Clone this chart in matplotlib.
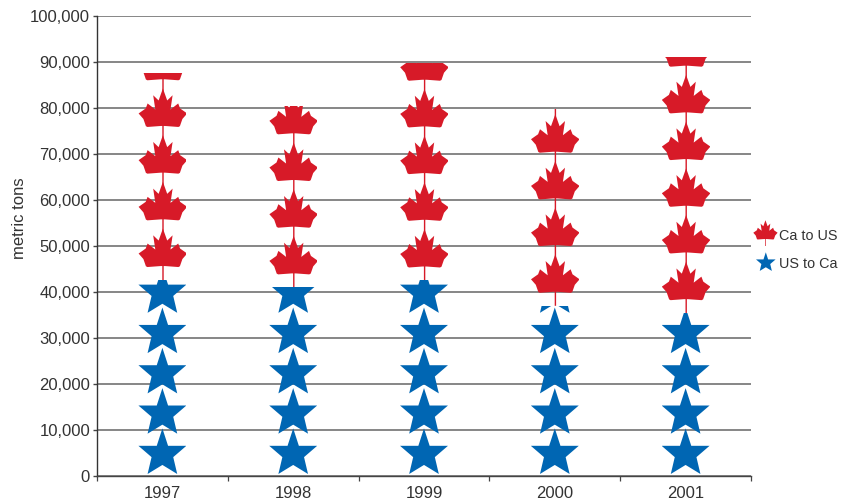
import numpy as np
import matplotlib
matplotlib.use("Agg")
import matplotlib.pyplot as plt
from matplotlib.path import Path
from matplotlib.patches import PathPatch
from matplotlib.transforms import Affine2D

years = ["1997", "1998", "1999", "2000", "2001"]
us_to_ca = [42600, 41000, 42500, 37000, 35400]
ca_to_us = [45000, 39400, 47350, 42800, 55750]
yticks = [0, 10000, 20000, 30000, 40000, 50000, 60000, 70000, 80000, 90000, 100000]

red = "#D71A28"
blue = "#0066B3"
txt = "#333333"

plt.rcParams["font.family"] = ["Liberation Sans", "DejaVu Sans"]

# one icon repeats every so many tons
star_unit = 8760
leaf_unit = 10150
tons_per_px = 100000 / 460.0
cat_per_px = 1 / 130.8

# maple leaf outline in pixels, origin at the bottom of the stem
stem = 13
half = [(0, 38.5), (4.3, 26.5), (9.7, 31.7), (7.6, 17.5), (15.3, 23.5), (17.2, 18.5), (24.3, 13.5),
        (19.5, 8), (17, 0.8), (15.5, 0), (2, 1)]
right = [(a + 0.5, b + stem) for a, b in half]
left = [(0.5 - a, b + stem) for a, b in half[::-1]]
leaf_pts = right + [(1.3, stem + 1), (1.3, 0), (-0.1, 0), (-0.1, stem + 1)] + left
leaf_path = Path(leaf_pts + [leaf_pts[0]], closed=True)

# five pointed star, flat arms and a slightly heavier lower body
star_half = [(0, 1), (0.2245, 0.309), (0.951, 0.309), (0.43, -0.14), (0.588, -0.809), (0, -0.45)]
star_pts = star_half + [(-a, b) for a, b in star_half[-2:0:-1]]
star_path = Path(star_pts + [star_pts[0]], closed=True)


def draw_stack(ax, rect, cx, base, value, unit, icon):
    n = int(np.ceil(value / unit))
    for i in range(n):
        y0 = base + i * unit
        if icon == "star":
            tr = Affine2D().scale(25.2 * cat_per_px, 25.2 * tons_per_px).translate(cx, y0 + 22.4 * tons_per_px)
            p = PathPatch(star_path, transform=tr + ax.transData, fc=blue, ec="none", zorder=3 + i * 0.01)
        else:
            tr = Affine2D().scale(cat_per_px, tons_per_px).translate(cx, y0)
            p = PathPatch(leaf_path, transform=tr + ax.transData, fc=red, ec="none", zorder=3 + i * 0.01)
        ax.add_patch(p)
        p.set_clip_path(rect)


fig = plt.figure(figsize=(8.53, 4.99), dpi=100)
ax = fig.add_axes([97 / 853, 1 - 476 / 499, (751 - 97) / 853, 460 / 499])

x = np.arange(len(years))
bars1 = ax.bar(x, us_to_ca, 48 * cat_per_px, color="none", linewidth=0)
bars2 = ax.bar(x, ca_to_us, 48 * cat_per_px, bottom=us_to_ca, color="none", linewidth=0)

for i in x:
    draw_stack(ax, bars1[i], i, 0, us_to_ca[i], star_unit, "star")
    draw_stack(ax, bars2[i], i, us_to_ca[i], ca_to_us[i], leaf_unit, "leaf")

ax.set_xlim(-0.5, 4.5)
ax.set_ylim(0, 100000)
ax.set_yticks(yticks)
ax.set_yticklabels([f"{v:,}" for v in yticks], fontsize=12, color=txt)
ax.set_xticks(np.arange(-0.5, 5, 1))
ax.set_xticklabels([])
ax.set_xticks(x, years, minor=True, fontsize=12, color=txt)
ax.tick_params(axis="x", which="minor", length=0, pad=7)
ax.tick_params(axis="x", which="major", length=3.5, width=0.9, color="#444444")
ax.tick_params(axis="y", length=3, width=1, color="#444444", pad=2)
ax.set_axisbelow(True)
ax.grid(axis="y", color="#666666", linewidth=1.1)
for s in ["top", "right"]:
    ax.spines[s].set_visible(False)
ax.spines["left"].set_color("#333333")
ax.spines["bottom"].set_color("#444444")
ax.spines["left"].set_linewidth(1)
ax.spines["bottom"].set_linewidth(1)

fig.text(20 / 853, 1 - 218 / 499, "metric tons", rotation=90, ha="center", va="center", fontsize=12, color=txt)

# legend, in figure pixels
leg_leaf = Affine2D().scale(0.5).translate(765.2, 499 - 246)
fig.add_artist(PathPatch(leaf_path, transform=leg_leaf, fc=red, ec="none"))
leg_star = Affine2D().scale(10.3).translate(765.8, 499 - 262.6)
fig.add_artist(PathPatch(star_path, transform=leg_star, fc=blue, ec="none"))
fig.text(779 / 853, 1 - 236 / 499, "Ca to US", ha="left", va="center", fontsize=10.4, color=txt)
fig.text(779 / 853, 1 - 264 / 499, "US to Ca", ha="left", va="center", fontsize=10.4, color=txt)

fig.savefig("out.png", dpi=100)
